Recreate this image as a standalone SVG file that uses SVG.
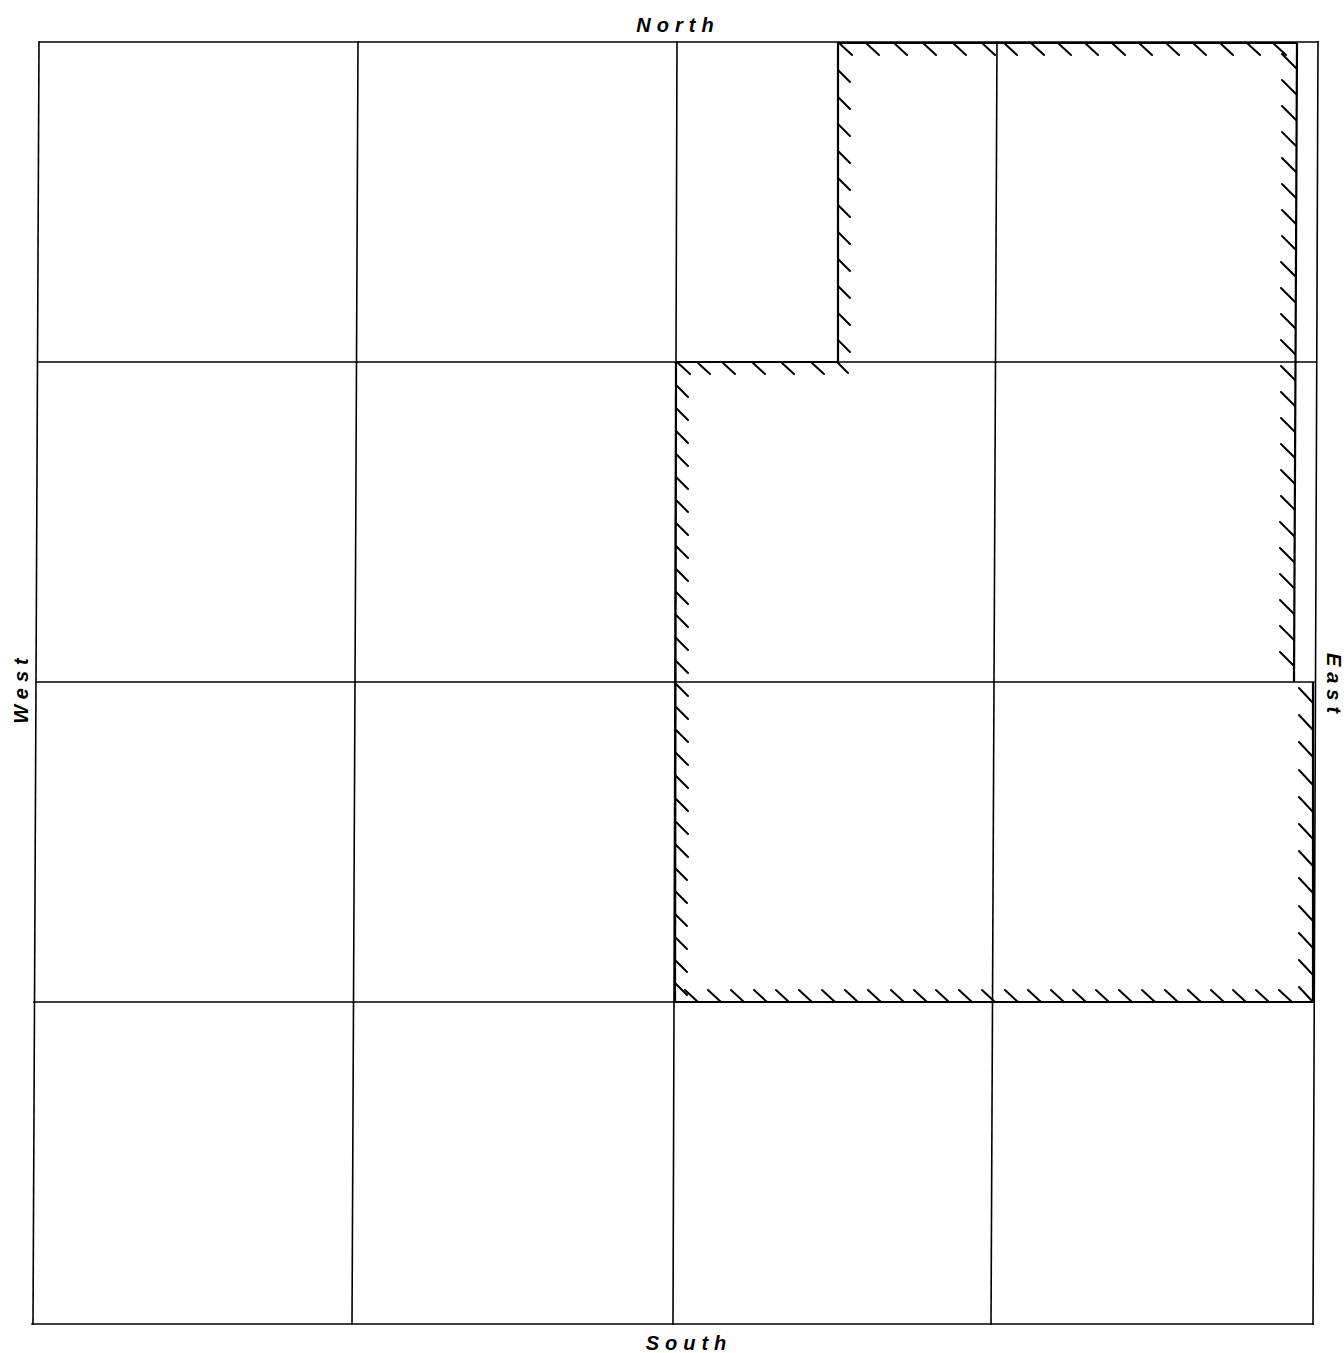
<svg xmlns="http://www.w3.org/2000/svg" width="1344" height="1353" viewBox="0 0 1344 1353">
<style>
.grid{stroke:#000;stroke-width:1.6;fill:none;stroke-linecap:square}
.bnd{stroke:#000;stroke-width:2.2;fill:none}
.hatch{stroke:#000;stroke-width:2;fill:none;stroke-linecap:round}
.lbl{font-family:"Liberation Sans",Arial,sans-serif;font-style:italic;font-weight:bold;font-size:20px;letter-spacing:6px;fill:#000;text-anchor:middle}
</style>
<rect x="0" y="0" width="1344" height="1353" fill="#fff"/>
<g id="grid" class="grid">
  <line x1="39" y1="42" x2="1318" y2="42"/>
  <line x1="39" y1="362" x2="1316" y2="362"/>
  <line x1="37" y1="682" x2="1314" y2="682"/>
  <line x1="34" y1="1002" x2="1313" y2="1002"/>
  <line x1="32" y1="1324" x2="1313" y2="1324"/>
  <line x1="39" y1="42" x2="33" y2="1324"/>
  <line x1="358" y1="42" x2="352" y2="1324"/>
  <line x1="677" y1="42" x2="673" y2="1324"/>
  <line x1="997" y1="42" x2="991" y2="1324"/>
  <line x1="1318" y1="42" x2="1313" y2="1324"/>
</g>
<g id="boundary">
  <g class="bnd">
    <polyline points="838,362 838,42"/>
    <line x1="1297" y1="43" x2="1294" y2="682"/>
    <line x1="838" y1="43" x2="1297" y2="43"/>
    <line x1="676" y1="362" x2="838" y2="362"/>
    <line x1="676" y1="362" x2="675" y2="1002"/>
    <line x1="675" y1="1002" x2="1313" y2="1002"/>
    <line x1="1313" y1="682" x2="1313" y2="1002"/>
  </g>
  <path class="hatch" d="M839 43l13 12M866 43l13 12M894 43l13 12M923 43l13 12M953 43l13 12M982 43l13 12M1004 43l13 12M1031 43l13 12M1058 43l13 12M1085 43l13 12M1112 43l13 12M1139 43l13 12M1166 43l13 12M1193 43l13 12M1220 43l13 12M1247 43l13 12M1273 43l13 12"/>
  <path class="hatch" d="M838 70l12 12M838 97l12 12M838 124l12 12M838 151l12 12M838 178l12 12M838 205l12 12M838 232l12 12M838 259l12 12M838 286l12 12M838 313l12 12M838 340l12 12"/>
  <path class="hatch" d="M678 363l12 11M698 363l12 11M723 363l12 11M753 363l12 11M782 363l12 11M812 363l12 11M838 363l10 10"/>
  <path class="hatch" d="M676 385l12 12M676 408l12 12M676 431l12 12M676 454l12 12M676 477l12 12M676 500l12 12M676 523l12 12M676 546l12 12M676 569l12 12M676 592l12 12M676 615l12 12M676 638l12 12M676 661l12 12M676 684l12 12M676 707l12 12M676 730l12 12M676 753l12 12M676 776l12 12M676 799l12 12M676 822l12 12M676 845l12 12M675 868l12 12M675 891l12 12M675 914l12 12M675 937l12 12M675 960l12 12M675 983l12 12"/>
  <path class="hatch" d="M685 990l13 12M708 990l13 12M731 990l13 12M754 990l13 12M776 990l13 12M799 990l13 12M822 990l13 12M845 990l13 12M868 990l13 12M891 990l13 12M914 990l13 12M936 990l13 12M959 990l13 12M982 990l13 12M1005 990l13 12M1028 990l13 12M1051 990l13 12M1073 990l13 12M1096 990l13 12M1119 990l13 12M1142 990l13 12M1165 990l13 12M1188 990l13 12M1211 990l13 12M1233 990l13 12M1256 990l13 12M1279 990l13 12"/>
  <path class="hatch" d="M1282 54l14 14M1282 80l14 14M1282 106l14 14M1282 132l14 14M1282 158l14 14M1282 184l14 14M1282 210l14 14M1282 236l14 14M1281 262l14 14M1281 288l14 14M1281 314l14 14M1281 340l14 14M1281 366l14 14M1281 392l14 14M1281 418l14 14M1281 444l14 14M1281 470l14 14M1281 496l14 14M1280 522l14 14M1280 548l14 14M1280 574l14 14M1280 600l14 14M1280 626l14 14M1280 652l14 14"/>
  <path class="hatch" d="M1299 688l14 15M1299 715l14 15M1299 742l14 15M1299 770l14 15M1299 797l14 15M1299 824l14 15M1299 851l14 15M1299 878l14 15M1299 906l14 15M1299 933l14 15M1299 960l14 15M1299 987l14 15"/>
</g>
<g id="labels">
  <text class="lbl" x="678" y="32">North</text>
  <text class="lbl" x="689" y="1350">South</text>
  <text class="lbl" transform="translate(28,688) rotate(-90)" x="0" y="0">West</text>
  <text class="lbl" transform="translate(1327,686) rotate(90)" x="0" y="0">East</text>
</g>
</svg>
